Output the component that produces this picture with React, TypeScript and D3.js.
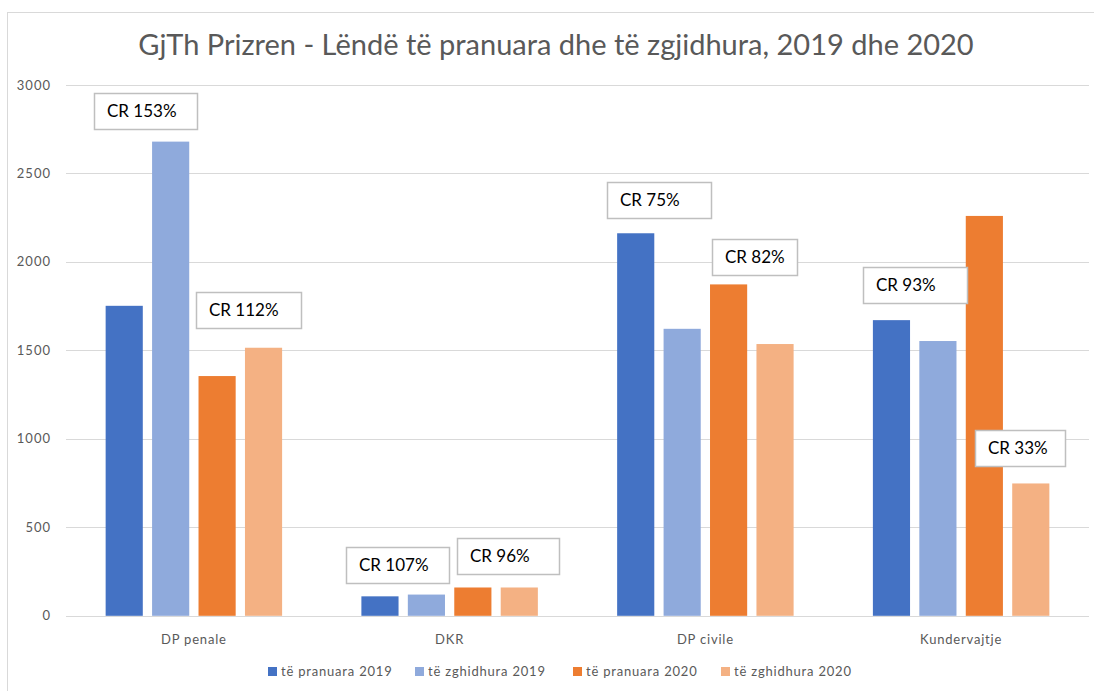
import React, { useEffect, useRef } from 'react'
import * as d3 from 'd3'

// chart data
const categories = ['DP penale', 'DKR', 'DP civile', 'Kundervajtje']
const seriesNames = ['të pranuara 2019', 'të zghidhura 2019', 'të pranuara 2020', 'të zghidhura 2020']
const pranuara2019 = [1752, 110, 2162, 1671]
const zgjidhura2019 = [2680, 120, 1622, 1553]
const pranuara2020 = [1355, 160, 1873, 2260]
const zgjidhura2020 = [1515, 160, 1536, 748]
const yTicks = [0, 500, 1000, 1500, 2000, 2500, 3000]

// clearance-rate callouts
const crCategory = ['DP penale', 'DP penale', 'DKR', 'DKR', 'DP civile', 'DP civile', 'Kundervajtje', 'Kundervajtje']
const crLabels = ['CR 153%', 'CR 112%', 'CR 107%', 'CR 96%', 'CR 75%', 'CR 82%', 'CR 93%', 'CR 33%']
// which bar each callout sits above, and a small nudge
const crAnchor = [1, 3, 1, 3, 0, 2, 0, 3]
const crDx = [-2, 8, -6, 12, 0, 3, 0, 12]
const crGap = [13, 20, 12, 13, 15, 9, 17, 17]
const crWidth = [103, 105, 103, 102, 104, 85, 104, 90]

const colors = ['#4472C4', '#8FAADC', '#ED7D31', '#F4B183']
const W = 1094
const H = 691
const FONT = 'Lato, "Open Sans", sans-serif'

const App = () => {
  const svgRef = useRef<SVGSVGElement>(null)

  useEffect(() => {
    document.body.style.margin = '0'
    const svg = d3.select(svgRef.current)
    svg.selectAll('*').remove()

    const series = [pranuara2019, zgjidhura2019, pranuara2020, zgjidhura2020]
    const plot = { left: 66, right: 1089, top: 85, bottom: 615.8 }

    // outer frame
    svg
      .append('rect')
      .attr('x', 7.5)
      .attr('y', 12.5)
      .attr('width', W + 20)
      .attr('height', H + 20)
      .attr('fill', '#fff')
      .attr('stroke', '#d9d9d9')

    // title
    svg
      .append('text')
      .attr('x', 556)
      .attr('y', 55)
      .attr('text-anchor', 'middle')
      .style('font-family', FONT)
      .style('font-size', '29px')
      .style('fill', '#595959')
      .text('GjTh Prizren - Lëndë të pranuara dhe të zgjidhura, 2019 dhe 2020')

    const y = d3.scaleLinear().domain([0, 3000]).range([plot.bottom, plot.top])
    const x0 = d3
      .scaleBand()
      .domain(categories)
      .range([plot.left, plot.right])
      .paddingInner(0.31)
      .paddingOuter(0.155)
    const x1 = d3
      .scaleBand<number>()
      .domain(d3.range(series.length))
      .range([0, x0.bandwidth()])
      .paddingInner(0.2)

    // gridlines + tick labels
    const grid = svg.append('g')
    yTicks.forEach((t) => {
      grid
        .append('line')
        .attr('x1', plot.left)
        .attr('x2', plot.right)
        .attr('y1', Math.round(y(t)) + 0.5)
        .attr('y2', Math.round(y(t)) + 0.5)
        .attr('stroke', '#d9d9d9')
        .attr('stroke-width', 1)
      grid
        .append('text')
        .attr('x', 51)
        .attr('y', y(t))
        .attr('dy', '0.35em')
        .attr('text-anchor', 'end')
        .style('font-family', FONT)
        .style('font-size', '13px')
        .style('letter-spacing', '1px')
        .style('fill', '#595959')
        .text(t)
    })

    // bars
    series.forEach((vals, si) => {
      svg
        .append('g')
        .selectAll('rect')
        .data(vals)
        .enter()
        .append('rect')
        .attr('x', (d, i) => (x0(categories[i]) as number) + (x1(si) as number))
        .attr('y', (d) => y(d))
        .attr('width', x1.bandwidth())
        .attr('height', (d) => y(0) - y(d))
        .attr('fill', colors[si])
    })

    // category labels
    categories.forEach((c) => {
      svg
        .append('text')
        .attr('x', (x0(c) as number) + x0.bandwidth() / 2)
        .attr('y', 639)
        .attr('dy', '0.35em')
        .attr('text-anchor', 'middle')
        .style('font-family', FONT)
        .style('font-size', '13px')
        .style('letter-spacing', '0.8px')
        .style('fill', '#595959')
        .text(c)
    })

    // CR callouts
    crLabels.forEach((label, k) => {
      const ci = categories.indexOf(crCategory[k])
      const pair = crAnchor[k] < 2 ? 0 : 2
      const cx =
        (x0(crCategory[k]) as number) +
        ((x1(pair) as number) + (x1(pair + 1) as number) + x1.bandwidth()) / 2 +
        crDx[k]
      const bottom = y(series[crAnchor[k]][ci]) - crGap[k]
      const h = 36
      const g = svg.append('g')
      g.append('rect')
        .attr('x', Math.round(cx - crWidth[k] / 2) + 0.5)
        .attr('y', Math.round(bottom - h) + 0.5)
        .attr('width', crWidth[k])
        .attr('height', h)
        .attr('fill', '#fff')
        .attr('stroke', '#bfbfbf')
        .attr('stroke-width', 1.5)
      g.append('text')
        .attr('x', Math.round(cx - crWidth[k] / 2) + 13)
        .attr('y', bottom - h / 2)
        .attr('dy', '0.35em')
        .style('font-family', FONT)
        .style('font-size', '17px')
        .style('fill', '#000')
        .text(label)
    })

    // legend
    const legendX = [268, 415, 573, 721]
    seriesNames.forEach((name, i) => {
      svg
        .append('rect')
        .attr('x', legendX[i])
        .attr('y', 667)
        .attr('width', 9)
        .attr('height', 9)
        .attr('fill', colors[i])
      svg
        .append('text')
        .attr('x', legendX[i] + 13)
        .attr('y', 671.5)
        .attr('dy', '0.35em')
        .style('font-family', FONT)
        .style('font-size', '13px')
        .style('letter-spacing', '0.8px')
        .style('fill', '#595959')
        .text(name)
    })
  }, [])

  return <svg ref={svgRef} width={W} height={H} style={{ display: 'block' }}></svg>
}

export default App
